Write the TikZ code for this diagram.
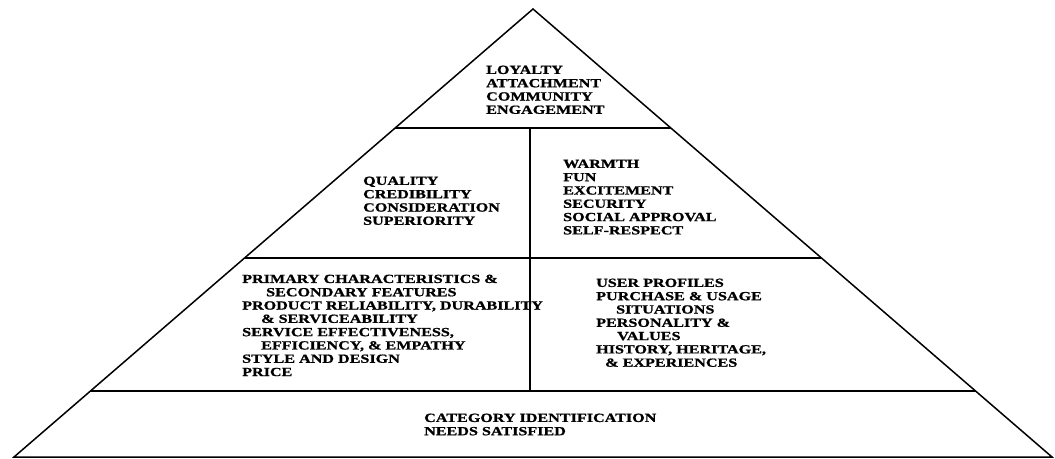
\documentclass[tikz,border=0pt]{standalone}
\usepackage{fontspec}
\setmainfont{Liberation Serif}[FakeStretch=1.3,FakeBold=1]
\usetikzlibrary{calc}
\tikzset{
  edge/.style={line width=1.5pt, black},
  lbl/.style={anchor=north west, inner sep=0pt, align=left,
    font=\bfseries\fontsize{12.4}{13.3}\selectfont}
}
\begin{document}
\begin{tikzpicture}[x=1pt,y=-1pt]
\useasboundingbox (0,0) rectangle (1055,458);
\fill[white] (0,0) rectangle (1055,458);
% pyramid outline
\coordinate (A) at (533,9);
\coordinate (L) at (14,457);
\coordinate (R) at (1052,457);
\draw[edge, line join=miter] (A) -- (L) -- (R) -- cycle;
% horizontal dividers
\coordinate (h1l) at ($(A)!0.2656!(L)$);
\coordinate (h1r) at ($(A)!0.2656!(R)$);
\coordinate (h2l) at ($(A)!0.5558!(L)$);
\coordinate (h2r) at ($(A)!0.5558!(R)$);
\coordinate (h3l) at ($(A)!0.8527!(L)$);
\coordinate (h3r) at ($(A)!0.8527!(R)$);
\draw[edge] (h1l) -- (h1r);
\draw[edge] (h2l) -- (h2r);
\draw[edge] (h3l) -- (h3r);
% vertical divider
\coordinate (vt) at (530,128);
\coordinate (vb) at (530,391);
\draw[edge] (vt) -- (vb);
% texts
\node[lbl] (top) at (486,65.5) {LOYALTY\\ATTACHMENT\\COMMUNITY\\ENGAGEMENT};
\node[lbl] (ml) at (363,176.5) {QUALITY\\CREDIBILITY\\CONSIDERATION\\SUPERIORITY};
\node[lbl] (mr) at (563,159.5) {WARMTH\\FUN\\EXCITEMENT\\SECURITY\\SOCIAL APPROVAL\\SELF-RESPECT};
\node[lbl] (bl) at (242,274.5) {PRIMARY CHARACTERISTICS \&\\\hspace*{24pt}SECONDARY FEATURES\\PRODUCT RELIABILITY, DURABILITY\\\hspace*{19pt}\& SERVICEABILITY\\SERVICE EFFECTIVENESS,\\\hspace*{19pt}EFFICIENCY, \& EMPATHY\\STYLE AND DESIGN\\PRICE};
\node[lbl] (br) at (596,278.5) {USER PROFILES\\PURCHASE \& USAGE\\\hspace*{20pt}SITUATIONS\\PERSONALITY \&\\\hspace*{21pt}VALUES\\HISTORY, HERITAGE,\\\hspace*{9pt}\& EXPERIENCES};
\node[lbl] (base) at (424,413.5) {CATEGORY IDENTIFICATION\\NEEDS SATISFIED};
\end{tikzpicture}
\end{document}
